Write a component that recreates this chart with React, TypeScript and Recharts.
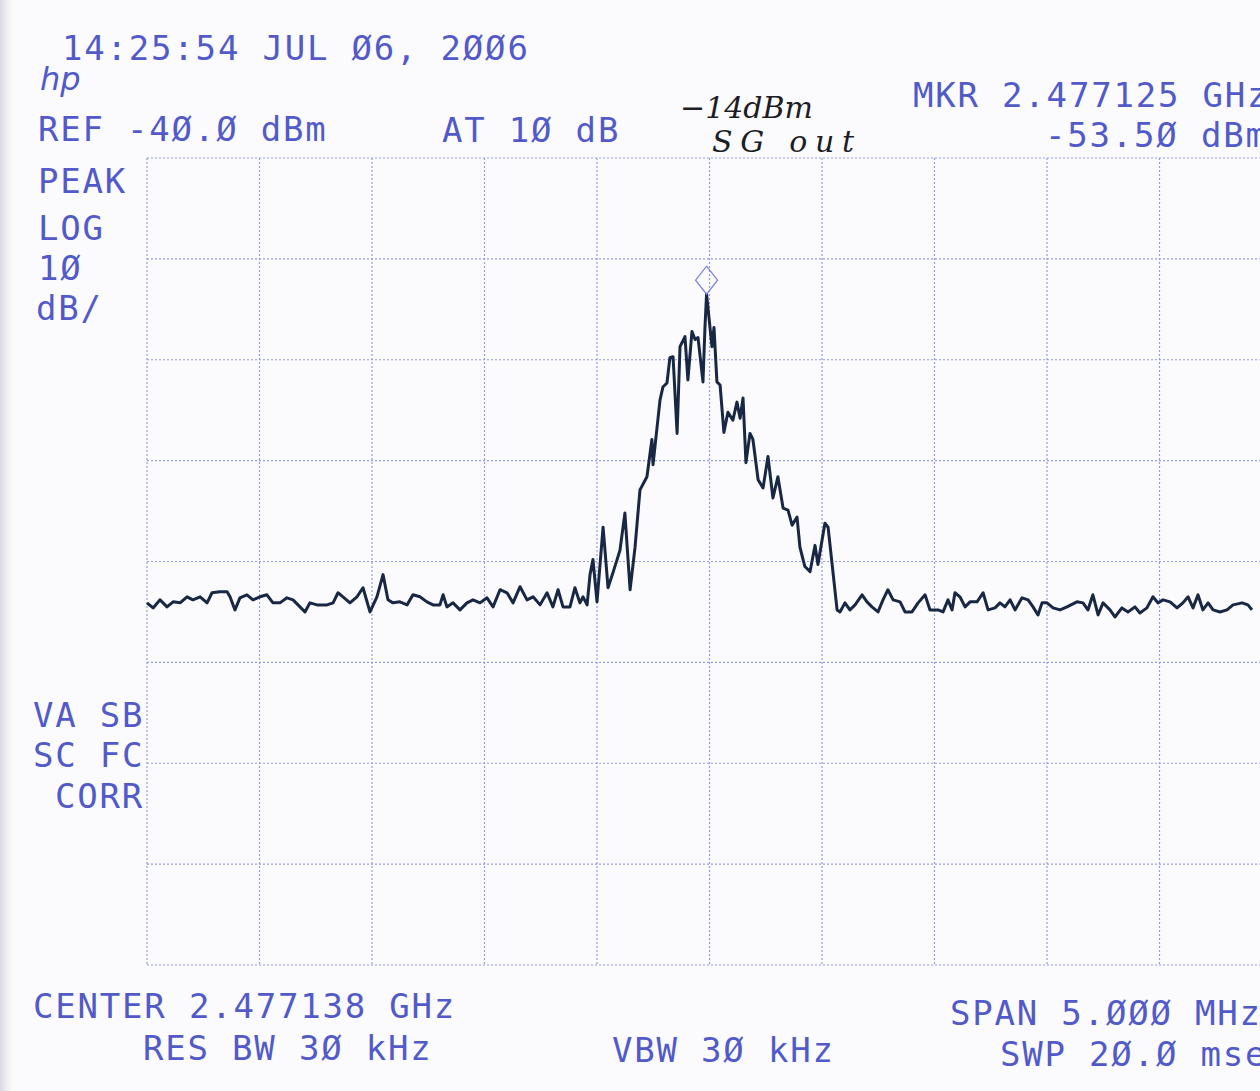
import { LineChart, Line, XAxis, YAxis, CartesianGrid, ReferenceDot } from 'recharts'

// frequency offset from CENTER 2.477138 GHz, kHz
const freqKHz = [
  -2500, -2473, -2442, -2411, -2384, -2353, -2322, -2296, -2264, -2233,
  -2211, -2176, -2144, -2131, -2109, -2087, -2056, -2029, -1998, -1967,
  -1940, -1909, -1878, -1851, -1820, -1798, -1776, -1744, -1700, -1673,
  -1651, -1629, -1598, -1567, -1540, -1509, -1478, -1451, -1429, -1407,
  -1376, -1344, -1318, -1287, -1256, -1229, -1198, -1184, -1167, -1140,
  -1109, -1078, -1051, -1020, -989, -962, -931, -900, -873, -842,
  -811, -784, -753, -722, -696, -673, -651, -620, -598, -576,
  -562, -544, -531, -518, -500, -473, -451, -429, -398, -376,
  -353, -331, -309, -278, -256, -251, -220, -207, -189, -176,
  -162, -144, -131, -109, -96, -78, -64, -51, -29, -20,
  -13, 11, 20, 33, 47, 64, 82, 104, 122, 136,
  149, 162, 180, 193, 216, 238, 260, 282, 304, 327,
  349, 367, 389, 402, 424, 447, 469, 482, 513, 527,
  549, 567, 580, 602, 624, 647, 678, 700, 722, 749,
  771, 793, 816, 847, 869, 900, 927, 958, 980, 1016,
  1038, 1060, 1078, 1091, 1113, 1136, 1158, 1189, 1216, 1238,
  1269, 1291, 1313, 1336, 1358, 1389, 1416, 1438, 1460, 1478,
  1500, 1527, 1558, 1589, 1633, 1660, 1682, 1704, 1727, 1749,
  1780, 1802, 1833, 1860, 1891, 1913, 1944, 1971, 1993, 2016,
  2047, 2078, 2104, 2127, 2149, 2171, 2193, 2216, 2238, 2269,
  2300, 2327, 2367, 2393, 2411,
]

// trace level, dBm
const levelDbm = [
  -84.1, -84.6, -83.8, -84.5, -84.0, -84.1, -83.5, -83.8, -83.5, -84.1,
  -83.1, -83.0, -83.0, -83.5, -84.8, -83.6, -83.3, -83.8, -83.5, -83.3,
  -84.1, -84.1, -83.6, -83.8, -84.5, -85.0, -84.1, -84.3, -84.3, -84.1,
  -83.1, -83.5, -84.1, -83.5, -82.6, -85.0, -83.5, -81.3, -83.8, -84.1,
  -84.0, -84.3, -83.3, -83.5, -84.0, -84.3, -84.3, -83.3, -84.5, -84.1,
  -84.8, -84.1, -83.8, -84.1, -83.6, -84.5, -82.8, -83.1, -84.1, -82.5,
  -83.8, -83.5, -84.3, -83.1, -84.5, -82.8, -84.5, -84.5, -82.6, -84.1,
  -83.5, -84.3, -81.3, -79.8, -84.0, -76.6, -82.6, -81.1, -78.9, -75.2,
  -82.8, -78.6, -72.9, -71.6, -67.9, -70.4, -64.0, -62.7, -62.3, -59.8,
  -59.7, -67.3, -58.7, -57.7, -62.0, -57.2, -58.0, -57.8, -62.2, -56.7,
  -53.5, -58.7, -56.8, -62.2, -62.5, -67.2, -65.2, -66.0, -64.2, -65.8,
  -63.8, -70.2, -67.3, -67.9, -71.9, -72.7, -69.6, -73.7, -71.6, -74.7,
  -74.9, -76.4, -75.6, -78.6, -80.5, -81.0, -78.4, -80.3, -76.2, -76.6,
  -81.1, -84.8, -85.0, -84.1, -84.8, -84.3, -83.3, -84.0, -84.5, -85.0,
  -83.8, -82.8, -83.8, -84.0, -85.0, -85.0, -84.1, -83.3, -84.8, -84.8,
  -85.0, -83.8, -84.8, -83.1, -83.5, -84.5, -84.0, -84.0, -83.1, -84.8,
  -84.6, -84.1, -84.5, -83.8, -84.8, -83.6, -83.8, -84.5, -85.3, -84.1,
  -84.1, -84.6, -84.8, -84.5, -84.0, -84.1, -84.8, -83.3, -85.3, -84.1,
  -84.8, -85.5, -84.6, -85.0, -84.5, -85.1, -84.6, -83.5, -84.1, -83.8,
  -84.0, -84.6, -84.1, -83.5, -84.6, -83.3, -84.8, -84.1, -84.8, -85.0,
  -84.8, -84.3, -84.1, -84.3, -84.8,
]

const freqTicks = [-2500, -2000, -1500, -1000, -500, 0, 500, 1000, 1500, 2000, 2500]
const levelTicks = [-120, -110, -100, -90, -80, -70, -60, -50, -40]
const markerFreq = -13
const markerLevel = -53.5

const data = freqKHz.map((f, i) => ({ f, dbm: levelDbm[i] }))

const INK = '#525ac9'
const TRACE = '#182743'

// printed annotation lines: text, left x, baseline y
const printed: { t: string; x: number; y: number }[] = [
  { t: '14:25:54 JUL Ø6, 2ØØ6', x: 62, y: 60 },
  { t: 'REF -4Ø.Ø dBm', x: 38, y: 141 },
  { t: 'AT 1Ø dB', x: 442, y: 142 },
  { t: 'MKR 2.477125 GHz', x: 913, y: 107 },
  { t: '-53.5Ø dBm', x: 1045, y: 147 },
  { t: 'PEAK', x: 38, y: 193 },
  { t: 'LOG', x: 38, y: 240 },
  { t: '1Ø', x: 38, y: 280 },
  { t: 'dB/', x: 36, y: 320 },
  { t: 'VA SB', x: 33, y: 727 },
  { t: 'SC FC', x: 33, y: 767 },
  { t: 'CORR', x: 55, y: 808 },
  { t: 'CENTER 2.477138 GHz', x: 33, y: 1018 },
  { t: 'RES BW 3Ø kHz', x: 143, y: 1060 },
  { t: 'VBW 3Ø kHz', x: 612, y: 1062 },
  { t: 'SPAN 5.ØØØ MHz', x: 950, y: 1025 },
  { t: 'SWP 2Ø.Ø msec', x: 1000, y: 1066 },
]

function MarkerDiamond({ cx, cy }: any) {
  if (cx == null || cy == null) return null
  return (
    <polygon
      points={`${cx},${cy - 28} ${cx + 11},${cy - 14} ${cx},${cy} ${cx - 11},${cy - 14}`}
      fill="none" stroke="#7c84dc" strokeWidth={1.3}
    />
  )
}

export default function App() {
  return (
    <div style={{
      position: 'absolute', left: 0, top: 0, width: 1260, height: 1091, overflow: 'hidden',
      background: 'linear-gradient(to right, #d9d9df 0px, #ebebf0 6px, #fbfbfd 12px)',
    }}>
      <div style={{ position: 'absolute', left: 0, top: 0 }}>
        <LineChart width={1300} height={1091} data={data} margin={{ top: 158, right: 28, bottom: 126, left: 147 }}>
          <CartesianGrid stroke="#959be2" strokeDasharray="2 2" strokeWidth={1.2} />
          <XAxis type="number" dataKey="f" domain={[-2500, 2500]} ticks={freqTicks} hide />
          <YAxis type="number" domain={[-120, -40]} ticks={levelTicks} hide />
          <Line
            dataKey="dbm" type="linear" stroke={TRACE} strokeWidth={3}
            strokeLinejoin="round" dot={false} activeDot={false} isAnimationActive={false}
          />
          <ReferenceDot x={markerFreq} y={markerLevel} shape={MarkerDiamond} />
        </LineChart>
      </div>
      <svg width={1260} height={1091} style={{ position: 'absolute', left: 0, top: 0 }}>
        {printed.map(p => (
          <text key={p.t} x={p.x} y={p.y} fill={INK}
            style={{ fontFamily: '"DejaVu Sans Mono", monospace', fontSize: 34, letterSpacing: 1.8 }}>
            {p.t}
          </text>
        ))}
        <text x={40} y={90} fill={INK}
          style={{ fontFamily: '"DejaVu Sans", sans-serif', fontSize: 32, fontStyle: 'italic' }}>hp</text>
        <text x={680} y={118} fill="#1d1d24"
          style={{ fontFamily: '"DejaVu Serif", serif', fontSize: 30, fontStyle: 'italic' }}>−14dBm</text>
        <text x={712} y={152} fill="#1d1d24" textLength={142} lengthAdjust="spacing"
          style={{ fontFamily: '"DejaVu Serif", serif', fontSize: 30, fontStyle: 'italic' }}>SG out</text>
      </svg>
    </div>
  )
}
